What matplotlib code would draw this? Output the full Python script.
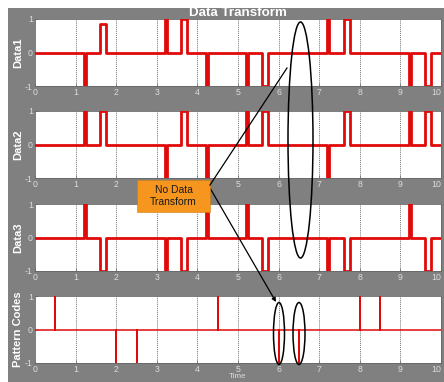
import matplotlib
matplotlib.use("Agg")
import matplotlib.pyplot as plt
from matplotlib.patches import Rectangle, Ellipse, FancyArrowPatch

# ---------------- data ----------------
t_spike = [1.2, 3.2, 4.2, 5.2, 7.2, 9.2]
t_pulse = [1.6, 3.6, 5.6, 7.6, 9.6]
spike_width = 0.05
pulse_width = 0.15

data1_spike = [-1, 1, -1, -1, 1, -1]
data1_pulse = [0.85, 1, -1, 1, -1]
data2_spike = [1, -1, -1, 1, -1, 1]
data2_pulse = [1, 1, 1, 1, 1]
data3_spike = [1, -1, 1, 1, -1, 1]
data3_pulse = [-1, -1, -1, -1, -1]

code_times = [0.5, 2.0, 2.5, 4.5, 6.0, 6.5, 8.0, 8.5]
code_values = [1, -1, -1, 1, -1, -1, 1, 1]

ylabels = ["Data1", "Data2", "Data3", "Pattern Codes"]
xticks = list(range(0, 11))
yticks = [-1, 0, 1]
t_start, t_end = 0, 10


def step_series(times, widths, values):
    xs, ys = [t_start], [0]
    for t, w, v in sorted(zip(times, widths, values)):
        xs += [t, t, t + w, t + w]
        ys += [0, v, v, 0]
    xs.append(t_end)
    ys.append(0)
    return xs, ys


def signal(spk, pls):
    times = t_spike + t_pulse
    widths = [spike_width] * len(t_spike) + [pulse_width] * len(t_pulse)
    return step_series(times, widths, spk + pls)


series = [
    signal(data1_spike, data1_pulse),
    signal(data2_spike, data2_pulse),
    signal(data3_spike, data3_pulse),
    step_series(code_times, [0] * len(code_times), code_values),
]

# ---------------- figure ----------------
W, H = 444, 382
fig = plt.figure(figsize=(W / 100, H / 100), dpi=100)
fig.patch.set_facecolor("white")
bg_gray = "#808080"
fig.add_artist(Rectangle((8 / W, 0), 1 - 8 / W, 1 - 8 / H, transform=fig.transFigure,
                         facecolor=bg_gray, edgecolor="none", zorder=-10))

red = "#e00a0a"
tick_color = "#dcdcdc"
ax_left, ax_right = 35, 441
tops = [19, 111, 204, 296]
ax_h = 67

axes = []
for i, (xs, ys) in enumerate(series):
    top = tops[i]
    ax = fig.add_axes([ax_left / W, 1 - (top + ax_h) / H, (ax_right - ax_left) / W, ax_h / H])
    ax.set_facecolor("white")
    lw = 1.1 if i == 3 else 2.0
    ax.plot(xs, ys, color=red, lw=lw, solid_joinstyle="round", zorder=3)
    ax.set_xlim(t_start, t_end)
    ax.set_ylim(-1, 1)
    ax.set_xticks(xticks)
    ax.set_yticks(yticks)
    ax.set_xticklabels([str(v) for v in xticks], fontsize=6.3, color=tick_color,
                       family="Liberation Sans")
    ax.set_yticklabels([str(v) for v in yticks], fontsize=6.3, color=tick_color,
                       family="Liberation Sans")
    ax.tick_params(axis="both", direction="in", length=2, width=0.5, color="#666666", pad=1.5)
    for x in xticks[1:-1]:
        ax.axvline(x, color="#777777", lw=0.7, ls=(0, (1, 1)), zorder=1)
    for s in ax.spines.values():
        s.set_color("#666666")
        s.set_linewidth(0.6)
    ax.set_ylabel(ylabels[i], fontsize=8, fontweight="bold", color="white",
                  family="Liberation Sans", labelpad=1.5)
    # keep the last tick label inside the picture
    last = ax.get_xticklabels()[-1]
    last.set_horizontalalignment("right")
    axes.append(ax)

# tick labels hidden behind the orange box in the reference
for lab in axes[1].get_xticklabels():
    if lab.get_text() in ("3", "4"):
        lab.set_visible(False)

axes[0].set_title("Data Transform", fontsize=9.6, fontweight="bold", color="white",
                  family="Liberation Sans", pad=-0.5)
fig.text(238 / W, 1 - 377 / H, "Time", fontsize=5.8, color=tick_color,
         family="Liberation Sans", ha="center", va="center")

# ---------------- annotation overlay (pixel coords) ----------------
ov = fig.add_axes([0, 0, 1, 1], zorder=10)
ov.set_xlim(0, W)
ov.set_ylim(H, 0)
ov.axis("off")
ov.patch.set_alpha(0)

ov.add_patch(Ellipse((300.5, 140), 25, 236, facecolor="none", edgecolor="black", lw=1.1))
ov.add_patch(Ellipse((279, 333.5), 11, 62, facecolor="none", edgecolor="black", lw=1.1))
ov.add_patch(Ellipse((299, 333.5), 12, 62, facecolor="none", edgecolor="black", lw=1.1))

ov.plot([210, 287], [185, 68], color="black", lw=0.9)
ov.add_patch(FancyArrowPatch((210, 188), (276, 302), arrowstyle="-|>", mutation_scale=6,
                             color="black", lw=0.9, shrinkA=0, shrinkB=0))

ov.add_patch(Rectangle((137, 180), 73, 32, facecolor="#f7961e", edgecolor="#d07a10", lw=0.4))
ov.text(173.5, 196, "No Data\nTransform", fontsize=7.5, color="#1a1a1a", ha="center",
        va="center", family="Liberation Sans", linespacing=1.15)

fig.savefig("out.png", dpi=100, facecolor=fig.get_facecolor())
